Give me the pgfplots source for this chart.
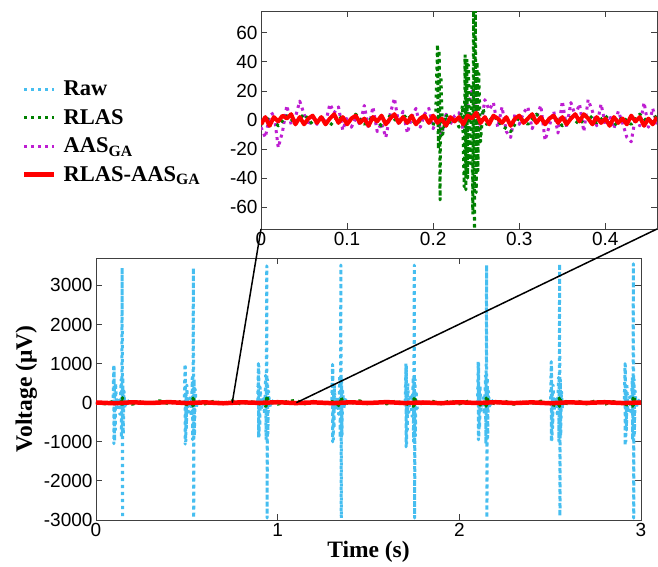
\documentclass[border=0pt]{standalone}
\usepackage{fontspec}
\setmainfont{Liberation Sans}
\newfontfamily\tnr{Liberation Serif}
\usepackage{pgfplots}
\pgfplotsset{compat=1.18}
\definecolor{rawc}{RGB}{70,190,240}
\definecolor{rlasc}{RGB}{0,128,0}
\definecolor{aasc}{RGB}{190,30,210}
\definecolor{redc}{RGB}{255,0,0}
\pgfplotsset{
  mdot/.style={line width=3pt, dash pattern=on 3pt off 4pt, line join=round},
  msolid/.style={line width=4.5pt, line join=round},
  common/.style={
    scale only axis,
    tick align=inside,
    axis line style={black!75, line width=0.8pt},
    tick style={black!75, line width=0.8pt},
    major tick length=6pt,
    tick label style={font=\fontsize{19}{21}\selectfont},
    /pgf/number format/assume math mode=true,
    /pgf/number format/set thousands separator={},
    scaled ticks=false,
  },
}
\begin{document}
\begin{tikzpicture}[x=1pt,y=1pt]
\path[use as bounding box] (0,0) rectangle (658,567);

% inset
\begin{axis}[common, name=inset, at={(261pt,338pt)}, anchor=south west,
  width=396pt, height=218pt,
  xmin=0, xmax=0.46, ymin=-75, ymax=75,
  xtick={0,0.1,0.2,0.3,0.4}, ytick={-60,-40,-20,0,20,40,60},
  axis background/.style={fill=white}]
\addplot[aasc, mdot] coordinates {
(0,-5) (0.005,-12) (0.01,3) (0.015,5) (0.02,-19) (0.025,-8) (0.03,10) (0.035,-3)
(0.04,2) (0.045,13) (0.05,4) (0.055,-4) (0.06,2) (0.065,-3) (0.07,3) (0.075,-2)
(0.08,11) (0.085,5) (0.09,9) (0.095,-7) (0.10,2) (0.105,-5) (0.11,1) (0.115,-3)
(0.12,10) (0.125,-6) (0.13,9) (0.135,-8) (0.14,-2) (0.145,-12) (0.15,4) (0.155,15)
(0.16,-3) (0.165,6) (0.17,-9) (0.175,2) (0.18,8) (0.185,-5) (0.19,4) (0.195,8)
(0.20,-6) (0.205,2) (0.21,-10) (0.215,4) (0.22,-3) (0.225,3) (0.23,5) (0.235,-7)
(0.24,8) (0.245,20) (0.25,10) (0.255,-6) (0.26,14) (0.265,7) (0.27,12) (0.275,-5)
(0.28,9) (0.285,-8) (0.29,-12) (0.295,4) (0.30,-3) (0.305,5) (0.31,9) (0.315,-6)
(0.32,2) (0.325,10) (0.33,-14) (0.335,-4) (0.34,6) (0.345,-9) (0.35,13) (0.355,-5)
(0.36,12) (0.365,3) (0.37,11) (0.375,-8) (0.38,14) (0.385,6) (0.39,-4) (0.395,11)
(0.40,-3) (0.405,3) (0.41,-6) (0.415,6) (0.42,-2) (0.425,-12) (0.43,-15) (0.435,2)
(0.44,-4) (0.445,12) (0.45,-5) (0.455,8) (0.46,-3)
};
\addplot[rlasc, mdot] coordinates {
(0,-3) (0.01,2) (0.02,-4) (0.03,3) (0.04,-2) (0.05,4) (0.06,-3) (0.07,2) (0.08,-4)
(0.09,3) (0.1,-2) (0.11,4) (0.12,-3) (0.13,2) (0.14,-4) (0.15,3) (0.16,-2) (0.17,4)
(0.18,-3) (0.19,2) (0.2,-4) (0.203,5) (0.205,52) (0.206,-20) (0.207,48) (0.208,-55)
(0.209,30) (0.211,-10) (0.215,4) (0.22,-3) (0.225,2) (0.23,-5) (0.234,10) (0.236,-46)
(0.237,45) (0.238,-48) (0.239,42) (0.240,-40) (0.241,38) (0.243,-30) (0.245,25)
(0.246,-65) (0.247,80) (0.248,-80) (0.249,78) (0.250,-50) (0.251,40) (0.252,-35)
(0.253,32) (0.255,-15) (0.258,8) (0.262,-3) (0.27,3) (0.28,-4) (0.29,-8) (0.3,2)
(0.31,-3) (0.32,4) (0.33,-2) (0.34,3) (0.35,-4) (0.36,2) (0.37,-3) (0.38,4) (0.39,-2)
(0.4,3) (0.41,-4) (0.42,2) (0.43,-3) (0.44,4) (0.45,-2) (0.46,3)
};
\addplot[redc, line width=4pt, line join=round] coordinates {
(0,-3) (0.005,2) (0.01,-4) (0.015,2) (0.02,-1) (0.025,3) (0.03,1) (0.035,4) (0.04,-3)
(0.045,2) (0.05,-3) (0.055,1) (0.06,3) (0.065,-2) (0.07,2) (0.075,-3) (0.08,1) (0.085,4)
(0.09,-2) (0.095,2) (0.1,-3) (0.105,1) (0.11,3) (0.115,-2) (0.12,1) (0.125,-4) (0.13,2)
(0.135,-1) (0.14,3) (0.145,-3) (0.15,1) (0.155,4) (0.16,-2) (0.165,2) (0.17,-2) (0.175,3)
(0.18,-3) (0.185,1) (0.19,3) (0.195,-2) (0.2,3) (0.205,-2) (0.21,1) (0.215,-4) (0.22,2)
(0.225,-1) (0.23,2) (0.235,-3) (0.24,3) (0.245,1) (0.25,5) (0.255,-2) (0.26,2) (0.265,-3)
(0.27,3) (0.275,1) (0.28,-2) (0.285,2) (0.29,-4) (0.295,1) (0.3,3) (0.305,-2) (0.31,1)
(0.315,4) (0.32,-2) (0.325,2) (0.33,-3) (0.335,1) (0.34,3) (0.345,-2) (0.35,2) (0.355,-3)
(0.36,1) (0.365,4) (0.37,-1) (0.375,4) (0.38,1) (0.385,-3) (0.39,2) (0.395,-2) (0.4,1)
(0.405,-4) (0.41,2) (0.415,-2) (0.42,1) (0.425,-3) (0.43,3) (0.435,-1) (0.44,2)
(0.445,-4) (0.45,1) (0.455,-3) (0.46,2)
};
\coordinate (i1) at (rel axis cs:0,0);
\coordinate (i2) at (rel axis cs:1,0);
\end{axis}

% main
\begin{axis}[common, name=main, at={(96pt,47pt)}, anchor=south west,
  width=545pt, height=262pt,
  xmin=0, xmax=3, ymin=-3000, ymax=3700,
  xtick={0,1,2,3}, ytick={-3000,-2000,-1000,0,1000,2000,3000},
  xlabel={\tnr\bfseries Time (s)},
  ylabel={\tnr\bfseries Voltage (μV)},
  label style={font=\fontsize{23.5}{25}\selectfont},
  xlabel style={yshift=3pt},
  legend style={at={(-0.136,1.683)}, anchor=north west, draw=none, fill=none,
    font=\tnr\bfseries\fontsize{22.5}{24}\selectfont, row sep=8pt, inner sep=0pt,
    nodes={inner xsep=7pt}},
  legend cell align=left,
  legend image code/.code={\draw[#1] (0pt,0pt) -- (30pt,0pt);}]
\addplot[rawc, mdot] coordinates {
(0,0) (0.074,0)
(0.094,30) (0.098,980) (0.099,-1050) (0.100,900) (0.102,-980) (0.104,200) (0.106,-700)
(0.108,500) (0.114,-200) (0.124,150) (0.132,-300) (0.138,600) (0.140,-900) (0.142,700)
(0.144,3450) (0.146,-2950) (0.148,650) (0.150,-800) (0.154,300) (0.160,-150) (0.168,80) (0.184,0)
(0.466,0) (0.486,20) (0.490,990) (0.491,-1060) (0.492,920) (0.494,-1000) (0.496,250)
(0.498,-650) (0.500,450) (0.506,-250) (0.516,120) (0.524,-350) (0.530,650) (0.532,-950)
(0.534,750) (0.536,3450) (0.538,-2950) (0.540,600) (0.542,-850) (0.546,350) (0.552,-120)
(0.560,60) (0.576,0)
(0.870,0) (0.890,-20) (0.894,1000) (0.895,-900) (0.896,950) (0.898,-850) (0.900,300)
(0.902,-600) (0.904,400) (0.910,-200) (0.920,100) (0.928,-300) (0.934,700) (0.936,-950)
(0.938,800) (0.940,3500) (0.942,-2950) (0.944,600) (0.946,-800) (0.950,300) (0.956,-150)
(0.964,70) (0.980,0)
(1.278,0) (1.298,30) (1.302,980) (1.303,-1000) (1.304,900) (1.306,-950) (1.308,250)
(1.310,-650) (1.312,450) (1.318,-200) (1.328,150) (1.336,-300) (1.342,700) (1.344,-900)
(1.346,750) (1.348,3520) (1.350,-2950) (1.352,650) (1.354,-850) (1.358,300) (1.364,-150)
(1.372,80) (1.388,0)
(1.682,0) (1.702,20) (1.706,1000) (1.707,-1130) (1.708,950) (1.710,-1050) (1.712,300)
(1.714,-700) (1.716,500) (1.722,-250) (1.732,150) (1.740,-350) (1.746,650) (1.748,-1000)
(1.750,700) (1.752,3520) (1.754,-2950) (1.756,600) (1.758,-850) (1.762,300) (1.768,-150)
(1.776,80) (1.792,0)
(2.080,0) (2.100,20) (2.104,1050) (2.105,-950) (2.106,1000) (2.108,-900) (2.110,300)
(2.112,-650) (2.114,450) (2.120,-200) (2.130,120) (2.138,-300) (2.144,700) (2.146,-1050)
(2.148,800) (2.150,3520) (2.152,-2950) (2.154,650) (2.156,-900) (2.160,300) (2.166,-150)
(2.174,80) (2.190,0)
(2.482,0) (2.502,20) (2.506,1050) (2.507,-1000) (2.508,950) (2.510,-950) (2.512,250)
(2.514,-650) (2.516,450) (2.522,-200) (2.532,150) (2.540,-350) (2.546,650) (2.548,-1000)
(2.550,750) (2.552,3550) (2.554,-2900) (2.556,600) (2.558,-850) (2.562,300) (2.568,-150)
(2.576,80) (2.592,0)
(2.888,0) (2.908,20) (2.912,1000) (2.913,-1100) (2.914,950) (2.916,-1000) (2.918,300)
(2.920,-700) (2.922,500) (2.928,-250) (2.938,150) (2.946,-300) (2.952,650) (2.954,-950)
(2.956,700) (2.958,3550) (2.960,-2950) (2.962,600) (2.964,-800) (2.968,300) (2.974,-150)
(2.982,80) (2.998,0)
};
\addlegendentry{Raw}
\addplot[rlasc, mdot] coordinates {
(0,10) (0.05,-30) (0.1,40) (0.14,-60) (0.142,110) (0.144,-90) (0.146,130) (0.15,20)
(0.2,-40) (0.25,30) (0.3,-20) (0.35,50) (0.4,-30) (0.45,40) (0.5,-50) (0.532,-80)
(0.534,120) (0.536,-100) (0.538,140) (0.54,10) (0.6,-30) (0.65,40) (0.7,-20) (0.75,50)
(0.8,-40) (0.85,30) (0.9,-30) (0.936,-90) (0.938,120) (0.94,-100) (0.942,140) (0.95,20)
(1.0,-40) (1.05,30) (1.1,60) (1.15,-30) (1.2,40) (1.25,-40) (1.3,30) (1.344,-90)
(1.346,110) (1.348,-90) (1.35,130) (1.36,10) (1.4,-30) (1.45,50) (1.5,-40) (1.55,30)
(1.6,-30) (1.65,40) (1.7,-20) (1.748,-90) (1.75,110) (1.752,-100) (1.754,140) (1.76,20)
(1.8,-40) (1.85,40) (1.9,-30) (1.95,50) (2.0,-30) (2.05,40) (2.1,-40) (2.146,-90)
(2.148,120) (2.15,-100) (2.152,140) (2.16,20) (2.2,-30) (2.25,40) (2.3,-40) (2.35,30)
(2.4,-20) (2.45,40) (2.5,-40) (2.548,-90) (2.55,120) (2.552,-100) (2.554,140) (2.56,10)
(2.6,-30) (2.65,40) (2.7,-30) (2.75,50) (2.8,-40) (2.85,30) (2.9,-30) (2.954,-90)
(2.956,120) (2.958,-100) (2.96,140) (2.97,20) (3.0,0)
};
\addlegendentry{RLAS}
\addplot[aasc, mdot] coordinates {
(0,10) (0.1,-15) (0.2,12) (0.3,-10) (0.4,14) (0.5,-12) (0.6,10) (0.7,-14) (0.8,12)
(0.9,-10) (1.0,15) (1.1,-12) (1.2,10) (1.3,-14) (1.4,12) (1.5,-10) (1.6,14) (1.7,-12)
(1.8,10) (1.9,-15) (2.0,12) (2.1,-10) (2.2,14) (2.3,-12) (2.4,10) (2.5,-14) (2.6,12)
(2.7,-10) (2.8,15) (2.9,-12) (3.0,0)
};
\addlegendentry{AAS\textsubscript{GA}}
\addplot[redc, msolid] coordinates {
(0,5) (0.1,-15) (0.2,10) (0.3,-8) (0.4,15) (0.5,-10) (0.6,8) (0.7,-15) (0.8,10)
(0.9,-5) (1.0,12) (1.1,-10) (1.2,8) (1.3,-12) (1.4,10) (1.5,-8) (1.6,15) (1.7,-10)
(1.8,5) (1.9,-12) (2.0,10) (2.1,-8) (2.2,12) (2.3,-10) (2.4,8) (2.5,-15) (2.6,10)
(2.7,-5) (2.8,12) (2.9,-10) (3.0,5)
};
\addlegendentry{RLAS-AAS\textsubscript{GA}}
\coordinate (m1) at (axis cs:0.75,0);
\coordinate (m2) at (axis cs:1.103,0);
\end{axis}

\draw[black, line width=1.5pt] (i1) -- (m1);
\draw[black, line width=1.5pt] (i2) -- (m2);
\end{tikzpicture}
\end{document}
